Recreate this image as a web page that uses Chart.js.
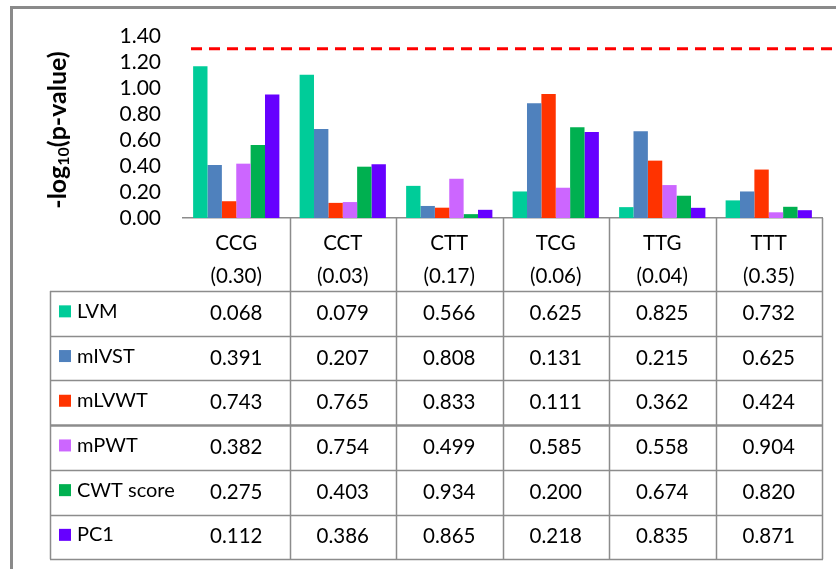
<!DOCTYPE html>
<html>
<head>
<meta charset="utf-8">
<script src="https://cdn.jsdelivr.net/npm/chart.js@4.4.1/dist/chart.umd.min.js"></script>
<style>
  html, body { margin: 0; padding: 0; background: #ffffff; }
  #wrap { width: 836px; height: 569px; position: relative; }
</style>
</head>
<body>
<div id="wrap"><canvas id="c" width="836" height="569"></canvas></div>
<script>
// Genotype groups and their overall p-values (shown under each group name)
const categories = ['CCG', 'CCT', 'CTT', 'TCG', 'TTG', 'TTT'];
const overallP = ['0.30', '0.03', '0.17', '0.06', '0.04', '0.35'];

// Phenotypes and their colours
const seriesNames = ['LVM', 'mIVST', 'mLVWT', 'mPWT', 'CWT score', 'PC1'];
const seriesColors = ['#00CC99', '#4F81BD', '#FF3300', '#CC66FF', '#00B050', '#6600FF'];

// p-values per phenotype, one per genotype group
const pLVM      = [0.068, 0.079, 0.566, 0.625, 0.825, 0.732];
const pMIVST    = [0.391, 0.207, 0.808, 0.131, 0.215, 0.625];
const pMLVWT    = [0.743, 0.765, 0.833, 0.111, 0.362, 0.424];
const pMPWT     = [0.382, 0.754, 0.499, 0.585, 0.558, 0.904];
const pCWTscore = [0.275, 0.403, 0.934, 0.200, 0.674, 0.820];
const pPC1      = [0.112, 0.386, 0.865, 0.218, 0.835, 0.871];
const pTable = [pLVM, pMIVST, pMLVWT, pMPWT, pCWTscore, pPC1];

// Significance threshold drawn as a dashed line
const alpha = 0.05;

// y-axis ticks
const yTicks = [0, 0.2, 0.4, 0.6, 0.8, 1.0, 1.2, 1.4];

const FONT = 'Lato, "Open Sans", "DejaVu Sans", sans-serif';
const GRID = '#8c8c8c';

const datasets = seriesNames.map((name, i) => ({
  label: name,
  data: pTable[i].map(p => -Math.log10(p)),
  backgroundColor: seriesColors[i],
  borderWidth: 0,
  barPercentage: 1.0,
  categoryPercentage: 0.81
}));

const tablePlugin = {
  id: 'dataTable',
  afterDraw(chart) {
    const ctx = chart.ctx;
    const xs = chart.scales.x;
    const ys = chart.scales.y;
    const area = chart.chartArea;

    ctx.save();

    // outer frame (left and top edges)
    ctx.strokeStyle = '#8a8a8a';
    ctx.lineWidth = 3;
    ctx.beginPath();
    ctx.moveTo(11.5, 569);
    ctx.lineTo(11.5, 7.5);
    ctx.lineTo(836, 7.5);
    ctx.stroke();

    // significance line at -log10(alpha)
    const yA = ys.getPixelForValue(-Math.log10(alpha));
    ctx.strokeStyle = '#FF0000';
    ctx.lineWidth = 3;
    ctx.setLineDash([11, 7]);
    ctx.beginPath();
    ctx.moveTo(191, yA);
    ctx.lineTo(836, yA);
    ctx.stroke();
    ctx.setLineDash([]);

    // table geometry
    const n = categories.length;
    const step = (area.right - area.left) / n;
    const tableLeft = 50;
    const headerBottom = 291;
    const rowH = 44.7;
    const tableBottom = headerBottom + rowH * seriesNames.length;

    ctx.strokeStyle = GRID;
    ctx.lineWidth = 1.5;
    // vertical separators between groups
    for (let k = 1; k <= n; k++) {
      const x = Math.round(area.left + step * k) + 0.5;
      ctx.beginPath();
      ctx.moveTo(x, area.bottom);
      ctx.lineTo(x, tableBottom);
      ctx.stroke();
    }
    // table left edge
    ctx.beginPath();
    ctx.moveTo(tableLeft + 0.5, headerBottom);
    ctx.lineTo(tableLeft + 0.5, tableBottom);
    ctx.stroke();
    // horizontal row lines
    for (let r = 0; r <= seriesNames.length; r++) {
      const y = Math.round(headerBottom + rowH * r) + 0.5;
      ctx.lineWidth = r === 3 ? 2.5 : 1.5;
      ctx.beginPath();
      ctx.moveTo(tableLeft, y);
      ctx.lineTo(area.right + 1, y);
      ctx.stroke();
    }

    // row labels with colour keys, and p-values
    ctx.textBaseline = 'middle';
    for (let r = 0; r < seriesNames.length; r++) {
      const cy = headerBottom + rowH * r + rowH / 2;
      ctx.fillStyle = seriesColors[r];
      ctx.fillRect(59, cy - 8, 12, 12);
      ctx.fillStyle = '#000';
      ctx.font = '20px ' + FONT;
      ctx.textAlign = 'left';
      ctx.fillText(seriesNames[r], 77, cy - 2);
      ctx.font = '20.5px ' + FONT;
      ctx.textAlign = 'center';
      for (let c = 0; c < n; c++) {
        const cx = xs.getPixelForValue(c);
        ctx.fillText(pTable[r][c].toFixed(3), cx, cy);
      }
    }

    // y-axis title: -log10(p-value)
    ctx.translate(58, 130);
    ctx.rotate(-Math.PI / 2);
    const big = 'bold 25px ' + FONT;
    const small = 'bold 16px ' + FONT;
    const parts = [['-log', big, 0], ['10', small, 6], ['(p-value)', big, 0]];
    let total = 0;
    parts.forEach(p => { ctx.font = p[1]; total += ctx.measureText(p[0]).width; });
    let x = -total / 2;
    ctx.fillStyle = '#000';
    ctx.textAlign = 'left';
    ctx.textBaseline = 'middle';
    parts.forEach(p => {
      ctx.font = p[1];
      ctx.fillText(p[0], x, p[2]);
      x += ctx.measureText(p[0]).width;
    });

    ctx.restore();
  }
};

new Chart(document.getElementById('c'), {
  type: 'bar',
  data: {
    labels: categories.map((c, i) => [c, '(' + overallP[i] + ')']),
    datasets: datasets
  },
  options: {
    responsive: false,
    animation: false,
    devicePixelRatio: 1,
    layout: { padding: { top: 36, right: 14, left: 0, bottom: 0 } },
    plugins: { legend: { display: false }, tooltip: { enabled: false } },
    scales: {
      x: {
        grid: { display: false, drawTicks: false, tickLength: 0 },
        border: { display: true, color: GRID, width: 1.5 },
        ticks: {
          color: '#000',
          font: { family: FONT, size: 20.5, lineHeight: 1.6 },
          padding: 9,
          maxRotation: 0,
          autoSkip: false
        },
        afterFit(s) { s.height = 351; }
      },
      y: {
        min: 0,
        max: 1.4,
        afterBuildTicks(s) { s.ticks = yTicks.map(v => ({ value: v })); },
        grid: { display: false, drawTicks: false, tickLength: 0 },
        border: { display: false },
        ticks: {
          color: '#000',
          font: { family: FONT, size: 21 },
          padding: 22,
          autoSkip: false,
          callback: v => Number(v).toFixed(2)
        },
        afterFit(s) { s.width = 183; }
      }
    }
  },
  plugins: [tablePlugin]
});
</script>
</body>
</html>
